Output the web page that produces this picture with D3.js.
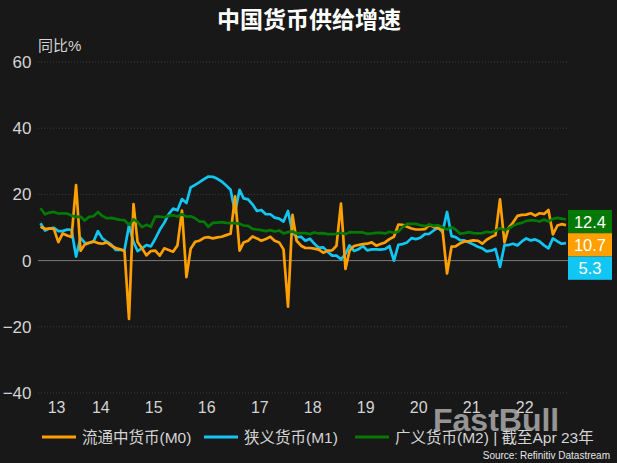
<!DOCTYPE html>
<html><head><meta charset="utf-8">
<script src="https://cdn.jsdelivr.net/npm/d3@7"></script>
<style>
html,body{margin:0;padding:0;background:#181818;}
svg{display:block;}
text{font-family:"Liberation Sans",Arial,"Noto Sans CJK SC",sans-serif;}
.cjk{font-family:"Liberation Sans","Noto Sans CJK SC",sans-serif;}
</style></head>
<body>
<svg id="chart" width="617" height="463"></svg>
<script>
// ---- data (monthly, May 2013 .. Apr 2023) ----
const startYear = 2013, startMonth = 4; // May (0-based)
const m0 = [
 10.2, 9.6, 9.7, 9.6, 5.6, 8.2, 7.6, 7.1,
 22.8, 3.0, 4.8, 5.4, 5.8, 5.3, 5.1, 5.5, 4.5, 3.8, 3.4, 2.9,
 -17.6, 17.1, 5.6, 3.7, 1.6, 2.9, 3.0, 1.5, 3.7, 3.2, 2.7, 4.6,
 15.1, -5.0, 3.6, 5.7, 6.0, 6.9, 7.1, 6.7, 7.0, 7.2, 7.7, 8.1,
 19.4, 3.0, 5.5, 6.0, 7.3, 6.7, 6.0, 6.5, 7.2, 6.0, 5.5, 3.4,
 -13.9, 13.8, 6.0, 4.5, 3.8, 3.8, 3.6, 3.3, 2.4, 3.0, 3.1, 4.5,
 17.2, -2.5, 3.0, 4.4, 4.7, 5.0, 5.1, 5.5, 4.5, 5.0, 5.5, 6.5,
 7.2, 10.9, 10.8, 10.2, 9.7, 9.4, 9.4, 9.5, 10.8, 10.1, 9.8, 9.2,
 -3.9, 4.2, 4.3, 5.2, 5.8, 5.9, 6.1, 6.0, 5.1, 6.3, 7.1, 7.7,
 18.5, 5.5, 9.9, 11.5, 13.5, 13.8, 13.9, 14.3, 13.6, 14.3, 14.1, 15.3,
 7.9, 10.6, 11.0, 10.7
];
const m1 = [
 11.3, 9.1, 9.7, 9.9, 8.9, 8.9, 9.4, 9.3,
 1.2, 6.9, 5.4, 5.3, 5.7, 8.9, 6.7, 5.7, 4.8, 3.2, 3.2, 3.2,
 10.6, 5.6, 2.9, 3.7, 4.7, 4.3, 6.6, 9.3, 11.4, 14.0, 15.7, 15.2,
 18.6, 17.4, 22.1, 22.9, 23.7, 24.6, 25.4, 25.3, 24.7, 23.9, 22.7, 21.4,
 14.5, 21.4, 18.8, 18.5, 17.0, 15.0, 15.3, 14.0, 14.0, 13.0, 12.7, 11.8,
 15.0, 8.5, 7.1, 7.2, 6.0, 6.6, 5.1, 3.9, 4.0, 2.7, 1.5, 1.5,
 0.4, 2.0, 4.6, 2.9, 3.4, 4.4, 3.1, 3.4, 3.4, 3.3, 3.5, 4.4,
 0.0, 4.8, 5.0, 5.5, 6.8, 6.5, 6.9, 8.0, 8.1, 9.1, 10.0, 8.6,
 14.7, 7.4, 7.1, 6.2, 6.1, 5.5, 4.9, 4.2, 3.7, 2.8, 3.0, 3.5,
 -1.9, 4.7, 4.7, 5.1, 4.6, 5.8, 6.7, 6.1, 6.4, 5.8, 4.6, 3.7,
 6.7, 5.8, 5.1, 5.3
];
const m2 = [
 15.8, 14.0, 14.5, 14.7, 14.2, 14.3, 14.2, 13.6,
 13.2, 13.3, 12.1, 13.2, 13.4, 14.7, 13.5, 12.8, 12.9, 12.6, 12.3, 12.2,
 10.8, 12.5, 11.6, 10.1, 10.8, 10.2, 13.3, 13.3, 13.1, 13.5, 13.7, 13.3,
 14.0, 13.3, 13.4, 12.8, 11.8, 11.8, 10.2, 11.4, 11.5, 11.6, 11.4, 11.3,
 11.3, 11.1, 10.6, 10.5, 9.6, 9.4, 9.2, 8.9, 9.2, 8.8, 9.1, 8.2,
 8.6, 8.8, 8.2, 8.3, 8.3, 8.0, 8.5, 8.2, 8.3, 8.0, 8.0, 8.1,
 8.4, 8.0, 8.6, 8.5, 8.5, 8.5, 8.1, 8.2, 8.4, 8.4, 8.2, 8.7,
 8.4, 8.8, 10.1, 11.1, 11.1, 11.1, 10.7, 10.4, 10.9, 10.5, 10.7, 10.1,
 9.4, 10.1, 9.4, 8.1, 8.3, 8.6, 8.3, 8.2, 8.3, 8.7, 8.5, 9.0,
 9.8, 9.2, 9.7, 10.5, 11.1, 11.4, 12.0, 12.2, 12.1, 11.8, 12.4, 11.8,
 12.6, 12.9, 12.7, 12.4
];
const seriesNames = ["流通中货币(M0)", "狭义货币(M1)", "广义货币(M2) | 截至Apr 23年"];
const seriesColors = ["#ff9f00", "#12c6f3", "#047a04"];
const yearLabels = ["13","14","15","16","17","18","19","20","21","22"];
const yTicks = [-40, -20, 0, 20, 40, 60];
const titleText = "中国货币供给增速";
const yUnit = "同比%";
const sourceText = "Source: Refinitiv Datastream";
const watermark = "FastBull";

// ---- build ----
const dates = m0.map((_, i) => new Date(startYear, startMonth + i, 1));
const series = [m0, m1, m2].map((vals, k) => ({
  name: seriesNames[k], color: seriesColors[k],
  values: vals.map((v, i) => ({date: dates[i], v}))
}));

const svg = d3.select("#chart");
svg.append("rect").attr("width", 617).attr("height", 463).attr("fill", "#181818");

const x = d3.scaleTime().domain([dates[0], dates[dates.length - 1]]).range([40.5, 566]);
const y = d3.scaleLinear().domain([-40, 60]).range([393, 62]);
const gridX0 = 38, gridX1 = 568;

// gridlines
svg.append("g").selectAll("line").data(yTicks.filter(t => t !== 0)).join("line")
  .attr("x1", gridX0).attr("x2", gridX1)
  .attr("y1", d => y(d)).attr("y2", d => y(d))
  .attr("stroke", "#3a3a3a").attr("stroke-width", 1).attr("stroke-dasharray", "1,2");
svg.append("line").attr("x1", gridX0).attr("x2", gridX1)
  .attr("y1", y(0)).attr("y2", y(0)).attr("stroke", "#7a7a7a").attr("stroke-width", 1);

// y axis
const yAxis = d3.axisLeft(y).tickValues(yTicks).tickSize(0).tickPadding(0);
const gy = svg.append("g").attr("transform", "translate(31.5,0)").call(yAxis);
gy.select(".domain").remove();
gy.selectAll("text").attr("fill", "#d4d4d4").attr("font-size", 17)
  .attr("font-family", "'Liberation Sans', Arial, sans-serif");

// x axis: labels at centre of each year's months
const yearMid = yearLabels.map(lbl => {
  const yr = 2000 + (+lbl);
  const ds = dates.filter(d => d.getFullYear() === yr);
  return new Date((+ds[0] + +ds[ds.length - 1]) / 2);
});
const xAxis = d3.axisBottom(x).tickValues(yearMid).tickSize(0).tickPadding(0)
  .tickFormat((d, i) => yearLabels[i]);
const gx = svg.append("g").attr("transform", "translate(0,402)").call(xAxis);
gx.select(".domain").remove();
gx.selectAll("text").attr("fill", "#d4d4d4").attr("font-size", 16)
  .attr("font-family", "'Liberation Sans', Arial, sans-serif");

// lines
const line = d3.line().x(d => x(d.date)).y(d => y(d.v)).curve(d3.curveLinear);
const drawOrder = [1, 0, 2];
drawOrder.forEach(k => {
  svg.append("path").datum(series[k].values)
    .attr("fill", "none").attr("stroke", series[k].color)
    .attr("stroke-width", 2.7).attr("stroke-linejoin", "round").attr("d", line);
});

// end labels
const ends = series.map(s => ({v: s.values[s.values.length - 1].v, color: s.color}))
  .sort((a, b) => b.v - a.v);
const boxH = 23.3;
let prev = -Infinity;
ends.forEach(e => {
  let c = Math.max(y(e.v) + 2, prev + boxH);
  e.c = c; prev = c;
});
const eg = svg.append("g");
ends.forEach(e => {
  eg.append("rect").attr("x", 568).attr("y", e.c - boxH / 2).attr("width", 44).attr("height", boxH)
    .attr("fill", e.color);
  eg.append("text").attr("x", 590).attr("y", e.c).attr("text-anchor", "middle")
    .attr("dominant-baseline", "central").attr("fill", "#ffffff").attr("font-size", 16.5)
    .text(d3.format(".1f")(e.v));
});

// title & unit
svg.append("text").attr("x", 309).attr("y", 28).attr("text-anchor", "middle")
  .attr("class", "cjk").attr("font-size", 23).attr("font-weight", "bold").attr("fill", "#ffffff")
  .text(titleText);
svg.append("text").attr("x", 38).attr("y", 51).attr("class", "cjk")
  .attr("font-size", 15).attr("fill", "#d4d4d4").text(yUnit);

// legend
const legendX = [42, 204, 355];
series.forEach((s, k) => {
  const g = svg.append("g").attr("transform", `translate(${legendX[k]},437)`);
  g.append("line").attr("x1", 0).attr("x2", 34).attr("y1", 0).attr("y2", 0)
    .attr("stroke", s.color).attr("stroke-width", 3);
  g.append("text").attr("x", 40).attr("y", 0).attr("dominant-baseline", "central")
    .attr("class", "cjk").attr("font-size", 15.5).attr("fill", "#d4d4d4").text(s.name);
});

// watermark
svg.append("text").attr("x", 433).attr("y", 431).attr("font-size", 32).attr("font-weight", "bold")
  .attr("fill", "#b8b8b8").attr("fill-opacity", 0.8)
  .attr("font-family", "'DejaVu Sans', sans-serif").text(watermark);

// source
svg.append("text").attr("x", 610).attr("y", 459).attr("text-anchor", "end")
  .attr("font-size", 10).attr("fill", "#e6e6e6").text(sourceText);
</script>
</body></html>
